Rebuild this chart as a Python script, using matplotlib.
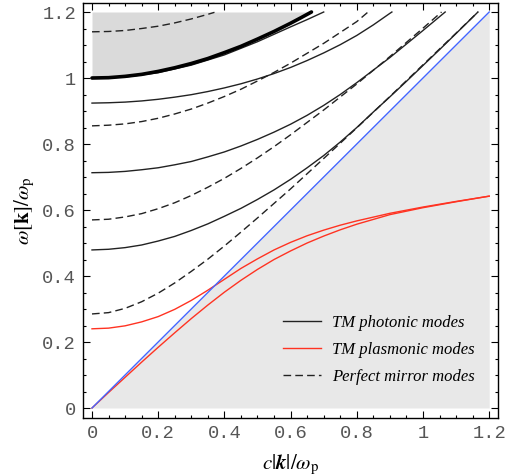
import matplotlib

matplotlib.use("Agg")
import matplotlib.pyplot as plt
from matplotlib.lines import Line2D

# values (x = c|k|/wp, y = w/wp)
light_x = [0.0, 1.2]
light_y = [0.0, 1.2]

bulk_x = [0, 0.05, 0.1, 0.15, 0.2, 0.25, 0.3, 0.35, 0.4, 0.45, 0.5, 0.55, 0.6, 0.63, 0.663]
bulk_y = [1.000, 1.001, 1.005, 1.011, 1.020, 1.031, 1.044, 1.059, 1.077, 1.096, 1.118, 1.141,
          1.166, 1.182, 1.2]

mirror1_x = [0, 0.05, 0.1, 0.15, 0.2, 0.25, 0.3, 0.35, 0.4, 0.45, 0.5, 0.55, 0.6, 0.65, 0.7, 0.8,
             0.9, 1.0, 1.1, 1.166]
mirror1_y = [0.285, 0.289, 0.302, 0.322, 0.348, 0.379, 0.414, 0.451, 0.491, 0.533, 0.576, 0.620,
             0.664, 0.710, 0.756, 0.849, 0.944, 1.040, 1.136, 1.2]
mirror2_x = [0, 0.05, 0.1, 0.15, 0.2, 0.25, 0.3, 0.35, 0.4, 0.45, 0.5, 0.55, 0.6, 0.7, 0.8, 0.9,
             1.0, 1.056]
mirror2_y = [0.570, 0.572, 0.579, 0.589, 0.604, 0.622, 0.644, 0.669, 0.696, 0.726, 0.758, 0.792,
             0.828, 0.903, 0.982, 1.065, 1.151, 1.2]
mirror3_x = [0, 0.05, 0.1, 0.15, 0.2, 0.25, 0.3, 0.35, 0.4, 0.45, 0.5, 0.55, 0.6, 0.7, 0.8, 0.834]
mirror3_y = [0.855, 0.857, 0.861, 0.868, 0.878, 0.891, 0.906, 0.924, 0.944, 0.966, 0.991, 1.017,
             1.045, 1.105, 1.171, 1.2]
mirror4_x = [0, 0.05, 0.1, 0.15, 0.2, 0.25, 0.3, 0.35, 0.37]
mirror4_y = [1.140, 1.141, 1.144, 1.150, 1.157, 1.167, 1.179, 1.193, 1.199]

photon1_x = [0, 0.05, 0.1, 0.15, 0.2, 0.25, 0.3, 0.35, 0.4, 0.45, 0.5, 0.55, 0.6, 0.65, 0.7, 0.75,
             0.8, 0.85, 0.9, 0.95, 1.0, 1.05, 1.1, 1.15, 1.166]
photon1_y = [0.479, 0.481, 0.486, 0.494, 0.506, 0.520, 0.538, 0.558, 0.581, 0.605, 0.632, 0.661,
             0.693, 0.728, 0.765, 0.806, 0.850, 0.897, 0.943, 0.990, 1.038, 1.086, 1.135, 1.184, 1.2]
photon2_x = [0, 0.05, 0.1, 0.15, 0.2, 0.25, 0.3, 0.35, 0.4, 0.45, 0.5, 0.55, 0.6, 0.65, 0.7, 0.75,
             0.8, 0.9, 1.0, 1.067]
photon2_y = [0.713, 0.714, 0.717, 0.722, 0.728, 0.737, 0.747, 0.761, 0.776, 0.794, 0.814, 0.836,
             0.860, 0.887, 0.917, 0.950, 0.986, 1.062, 1.144, 1.2]
photon3_x = [0, 0.05, 0.1, 0.15, 0.2, 0.25, 0.3, 0.35, 0.4, 0.45, 0.5, 0.55, 0.6, 0.65, 0.7, 0.75,
             0.8, 0.85, 0.9, 0.906]
photon3_y = [0.924, 0.925, 0.927, 0.9305, 0.9355, 0.942, 0.9495, 0.959, 0.970, 0.9825, 0.997,
             1.0135, 1.032, 1.053, 1.076, 1.101, 1.129, 1.161, 1.196, 1.2]
photon4_x = [0, 0.1, 0.2, 0.3, 0.4, 0.5, 0.6, 0.65, 0.70]
photon4_y = [0.999, 1.003, 1.016, 1.039, 1.070, 1.110, 1.155, 1.177, 1.2]

plasmon_x = [0, 0.05, 0.1, 0.15, 0.2, 0.25, 0.3, 0.35, 0.4, 0.45, 0.5, 0.55, 0.6, 0.65, 0.7, 0.75,
             0.8, 0.9, 1.0, 1.1, 1.2]
plasmon_hi = [0.240, 0.242, 0.249, 0.261, 0.277, 0.299, 0.326, 0.357, 0.390, 0.423, 0.452, 0.479,
              0.502, 0.522, 0.539, 0.554, 0.567, 0.590, 0.609, 0.626, 0.642]
plasmon_lo = [0.000, 0.047, 0.093, 0.139, 0.184, 0.228, 0.271, 0.312, 0.351, 0.387, 0.420, 0.450,
              0.476, 0.500, 0.521, 0.540, 0.557, 0.586, 0.607, 0.625, 0.642]

ticks = [0, 0.2, 0.4, 0.6, 0.8, 1.0, 1.2]
tick_labels = ["0", "0.2", "0.4", "0.6", "0.8", "1", "1.2"]
legend_labels = ["TM photonic modes", "TM plasmonic modes", "Perfect mirror modes"]

plt.rcParams["mathtext.fontset"] = "stix"

fig = plt.figure(figsize=(5.05, 4.76), dpi=100)
ax = fig.add_axes([83 / 505, 58 / 476, 415 / 505, 415 / 476])

ax.fill_between(light_x, 0, light_y, color="#e8e8e8", lw=0, zorder=0)
ax.fill_between(bulk_x, bulk_y, 1.2, color="#dadada", lw=0, zorder=0)

dark = "#222222"
red = "#ff3322"
dash = (5.5, 3.0)
for xs, ys in [(mirror1_x, mirror1_y), (mirror2_x, mirror2_y), (mirror3_x, mirror3_y), (mirror4_x, mirror4_y)]:
    ax.plot(xs, ys, color=dark, lw=1.0, dashes=dash)
for xs, ys in [(photon1_x, photon1_y), (photon2_x, photon2_y), (photon3_x, photon3_y), (photon4_x, photon4_y)]:
    ax.plot(xs, ys, color=dark, lw=1.0)
ax.plot(bulk_x, bulk_y, color="black", lw=2.6, solid_capstyle="round")
ax.plot(plasmon_x, plasmon_hi, color=red, lw=1.0)
ax.plot(plasmon_x, plasmon_lo, color=red, lw=1.0)
ax.plot(light_x, light_y, color="#4466ff", lw=1.0)

ax.set_xlim(-0.0272, 1.2266)
ax.set_ylim(-0.0303, 1.2273)
ax.set_xticks(ticks)
ax.set_xticklabels(tick_labels)
ax.set_yticks(ticks)
ax.set_yticklabels(tick_labels)
ax.set_xticks([i * 0.05 for i in range(25)], minor=True)
ax.set_yticks([i * 0.05 for i in range(25)], minor=True)
ax.tick_params(which="both", direction="in", top=True, right=True, width=0.8, colors="black",
               labelcolor="#555555")
ax.tick_params(which="major", length=5, pad=5)
ax.tick_params(which="minor", length=2.5)
for lab in ax.get_xticklabels() + ax.get_yticklabels():
    lab.set_family("Liberation Mono")
    lab.set_fontsize(13.5)
for sp in ax.spines.values():
    sp.set_linewidth(1.0)

ax.set_xlabel(r"$c|\mathbfit{k}|/\omega_{\mathrm{p}}$", fontsize=15, labelpad=8)
ax.set_ylabel(r"$\omega[\mathbf{k}]/\omega_{\mathrm{p}}$", fontsize=15, labelpad=4)

handles = [
    Line2D([], [], color=dark, lw=1.0),
    Line2D([], [], color=red, lw=1.0),
    Line2D([], [], color=dark, lw=1.0, dashes=dash),
]
ax.legend(handles, legend_labels, loc="upper left", bbox_to_anchor=(0.482, 0.248), frameon=False,
          borderpad=0, borderaxespad=0, handlelength=2.3, handletextpad=0.65, labelspacing=0.65,
          prop={"family": "Liberation Serif", "style": "italic", "size": 12})

fig.savefig("out.png", dpi=100)
